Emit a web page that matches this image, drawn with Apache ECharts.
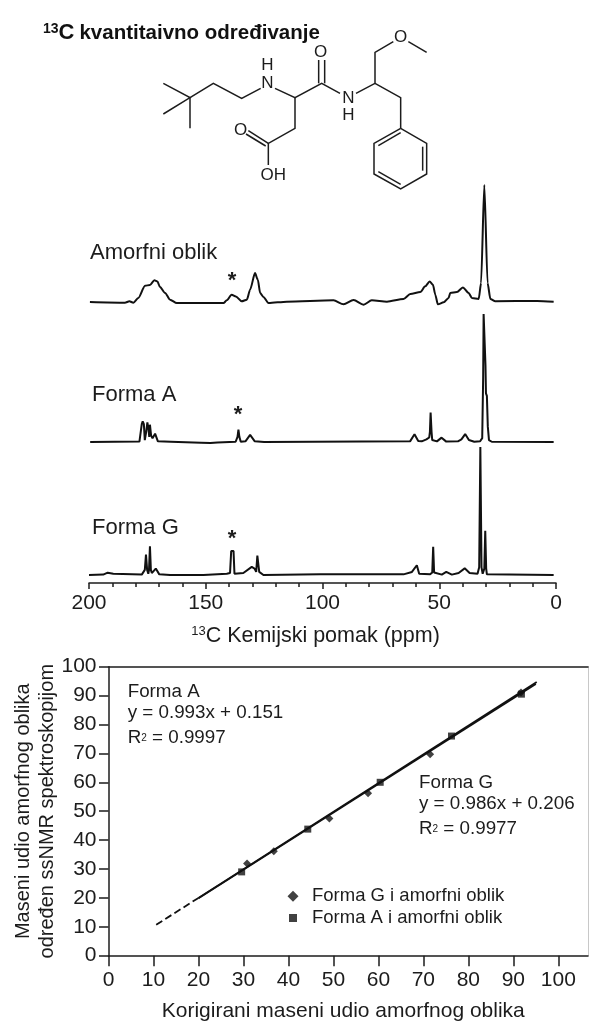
<!DOCTYPE html>
<html><head><meta charset="utf-8">
<style>html,body{margin:0;padding:0;background:#fff}#c{width:589px;height:1021px}</style>
<script src="https://cdn.jsdelivr.net/npm/echarts@6/dist/echarts.min.js"></script>
</head><body><div id="c"></div>
<script>
// 13C spectra: [ppm, relative intensity]
const amorphous = [[199.6,0],[184.6,-.6],[182.7,.6],[181,-.6],[178.9,3.4],[176,13.9],[173.9,14.5],[172,18.5],[170.7,17.6],[169.6,12.8],[167.4,7.7],[165.3,2],[162.4,-.9],[142.4,-.9],[141,1.4],[138.9,6.3],[137.1,4.8],[134.6,.6],[132.4,2],[131,10.5],[128.9,24.7],[127.7,19],[126.7,7.7],[125.3,4.3],[123.1,-.9],[115.3,.3],[95.3,1.4],[91,-2],[86.7,1.7],[82.4,-2.3],[78.9,1.4],[72.4,.3],[65.3,2.6],[62.4,6.8],[58.1,8.5],[56,13.4],[54.1,17.6],[52.7,14.8],[51.7,6.3],[50.6,-2],[48.1,-.3],[46,3.4],[45.3,7.7],[42.4,8.5],[39.9,12.5],[37.4,7.7],[36,3.4],[33.1,2.6],[32.1,16.2],[30.7,100],[29.3,16.2],[28.1,2.6],[26,.6],[8.1,.9],[1,.3]];
const formA = [[199.5,0],[178.4,.3],[177.4,14],[177,16.1],[176.5,14],[176.1,1.5],[175.5,8],[175,15.3],[174.5,10],[174.2,4],[173.9,13.5],[173.4,5],[172.8,3],[171.7,6.5],[170.5,.5],[165,.2],[152,-.5],[148,-.8],[145,-.3],[137.2,.2],[136.4,4],[136,9.6],[135.6,4],[135,.2],[133,.5],[131,5.5],[129,.5],[125,0],[62.5,.5],[60.6,6],[59,.8],[57.5,.5],[55.5,2],[54.3,3.5],[54,8],[53.7,23.1],[53.3,8],[53,1.5],[51,.5],[49,3.4],[47,.3],[42,.5],[40.5,2],[38.9,6.2],[37.3,1.5],[35,.2],[32.5,.6],[31.6,3],[31.2,50],[31,100],[30.5,100],[30.2,60],[30,38],[29.6,36],[29.2,12],[28.7,1.5],[27.5,.2],[1,0]];
const formG = [[200,0],[193.9,.3],[192,1.8],[189.6,1],[177.4,.3],[176.1,4],[175.6,16],[175.1,4],[174.6,1],[174.3,4],[173.9,22.5],[173.5,4],[173.1,1.5],[171.4,5],[169.9,.5],[165.3,0],[151,0],[141,1],[139.6,1.6],[139.1,18.8],[138.1,18.8],[137.7,1],[133.9,1.6],[130.3,6.3],[129.1,5],[128.4,2.4],[127.9,15.2],[127.1,2.4],[125.3,0],[101,.5],[65.3,.5],[61.7,2.4],[59.6,7.6],[58.6,1],[53.9,.5],[53,2],[52.6,22],[52.2,2],[51.9,.5],[48.9,.3],[47,2.4],[44.6,.3],[41.7,1.6],[39.1,5.2],[37,1.6],[33.6,1],[32.9,6],[32.4,100],[31.9,6],[31.4,1],[30.7,5],[30.3,34.6],[29.9,5],[29.6,.5],[1,0]];
const ppmTicks = { min: 0, max: 200, interval: 50 };

// Calibration plot
const corrTicks = { min: 0, max: 100, interval: 10 };
const formGPoints = [[30.8,31.9],[36.75,36.1],[49.1,47.5],[57.7,56.2],[71.5,69.7],[91.7,91.1]];
const formAPoints = [[29.6,29],[44.3,43.8],[60.4,60],[76.25,76],[91.8,90.5]];
const fitSolidA = [[20,20],[95.2,94.7]];
const fitSolidG = [[20,19.9],[95,94]];
const fitDashed = [[10.6,10.7],[20,20]];

const FONT = 'Liberation Sans, Arial, sans-serif';
const INK = '#1c1c1c';

const stroke = { stroke: INK, lineWidth: 1.5, fill: 'none' };
// Molecule drawing, in crop coords (3x, origin 30,0)
const chainPaths = [
  [[400,250],[480,293],[400,342]],
  [[480,293],[480,385]],
  [[480,293],[550,250],[635,295],[692,265]],
  [[735,265],[795,293],[875,250],[930,280]],
  [[866,250],[866,180]],[[884,250],[884,180]],
  [[978,280],[1035,250],[1035,157],[1090,125]],
  [[1135,125],[1190,157]],
  [[1035,250],[1112,293],[1112,385]],
  [[1112,385],[1190,430],[1190,522],[1112,567],[1032,522],[1032,430],[1112,385]],
  [[1178,440],[1178,512]],[[1112,553],[1045,515]],[[1045,437],[1112,398]],
  [[795,293],[795,385],[715,430],[715,495]],
  [[715,430],[655,392]],[[707,438],[648,402]]
];
const atomLabels = [['H',712,195],['N',712,250],['O',872,158],['N',955,295],['H',955,347],['O',1112,113],['O',632,390],['OH',730,525]];

const graphics = [];
chainPaths.forEach(p => graphics.push({ type:'polyline', shape:{ points:p.map(q=>[30+q[0]/3,q[1]/3]) }, style:stroke }));
atomLabels.forEach(a => graphics.push({ type:'text', x:30+a[1]/3, y:a[2]/3, style:{ text:a[0], font:'17px '+FONT, fill:INK, textAlign:'center', textVerticalAlign:'middle' } }));
[['Amorfni oblik',90,253],['Forma A',92,395],['Forma G',92,528]].forEach(t => graphics.push({ type:'text', x:t[1], y:t[2], style:{ text:t[0], font:'22px '+FONT, fill:INK, textVerticalAlign:'middle' } }));
[[232,281],[238,414.5],[232,538.5]].forEach(t => graphics.push({ type:'text', x:t[0], y:t[1], style:{ text:'*', font:'bold 22px '+FONT, fill:INK, textAlign:'center', textVerticalAlign:'middle' } }));
[['Forma A',127.7,692],['y = 0.993x + 0.151',127.7,713],['Forma G',419,783],['y = 0.986x + 0.206',419,804]].forEach(t => graphics.push({ type:'text', x:t[1], y:t[2], style:{ text:t[0], font:'18.8px '+FONT, fill:INK, textVerticalAlign:'middle' } }));
[['0.9997',127.7,738],['0.9977',419,829]].forEach(t => graphics.push({ type:'text', x:t[1], y:t[2], style:{ text:'{a|R}{b|2}{a| = '+t[0]+'}', fill:INK, textVerticalAlign:'middle', rich:{ a:{font:'18.8px '+FONT,fill:INK}, b:{font:'10px '+FONT,fill:INK} } } }));

const hiddenX = { type:'value', inverse:true, min:ppmTicks.min, max:ppmTicks.max, show:false };
const hiddenY = { type:'value', min:0, max:100, show:false };
const lineStyle = { color:INK, width:1.5 };
const axisLine = { show:true, onZero:false, lineStyle };
function specSeries(i,data){ return { type:'line', xAxisIndex:i, yAxisIndex:i, data, showSymbol:false, symbol:'none', clip:false, silent:true, smooth:i===0?0.25:false, smoothMonotone:'x', lineStyle:{ color:'#111', width:2 }, legendHoverLink:false }; }
function fit(name,data,type){ return { name, type:'line', xAxisIndex:3, yAxisIndex:3, data, symbol:'none', silent:true, lineStyle:{ color:'#111', width:1.8, type } }; }

const chart = echarts.init(document.getElementById('c'), null, { renderer:'canvas' });
chart.setOption({
  animation:false, backgroundColor:'#fff',
  title:{ left:38, top:17, text:'{s|13}{c|C} {t|kvantitaivno određivanje}', textStyle:{ rich:{
    s:{ fontFamily:FONT, fontWeight:'bold', fontSize:14, color:'#111', verticalAlign:'top', padding:[0,0,8,0] },
    c:{ fontFamily:FONT, fontWeight:'bold', fontSize:22, color:'#111' },
    t:{ fontFamily:FONT, fontWeight:'bold', fontSize:20.5, color:'#111' } } } },
  legend:[
    { left:282.5, top:881.7, itemWidth:11, itemHeight:11, data:[{name:'Forma G i amorfni oblik',icon:'diamond'}],
      textStyle:{ fontFamily:FONT, fontSize:18.5, color:INK, padding:[0,0,0,8.5] } },
    { left:284, top:903.5, itemWidth:8, itemHeight:8, data:[{name:'Forma A i amorfni oblik',icon:'rect'}],
      textStyle:{ fontFamily:FONT, fontSize:18.5, color:INK, padding:[0,0,0,10] } }
  ],
  grid:[
    { left:89, right:33, top:185, height:117, outerBoundsMode:'none' },
    { left:89, right:33, top:314, height:128, outerBoundsMode:'none' },
    { left:89, right:33, top:447, height:128, outerBoundsMode:'none' },
    { left:108.5, right:1, top:666.7, height:289, outerBoundsMode:'none' }
  ],
  xAxis:[
    { ...hiddenX, gridIndex:0 },
    { ...hiddenX, gridIndex:1 },
    { type:'value', gridIndex:2, inverse:true, ...ppmTicks, position:'bottom', offset:8,
      axisLine, splitLine:{show:false},
      axisTick:{ show:true, length:6, lineStyle },
      minorTick:{ show:true, splitNumber:5, length:4, lineStyle },
      axisLabel:{ fontFamily:FONT, fontSize:21, color:INK, margin:10 },
      name:'{s|13}{t|C Kemijski pomak (ppm)}', nameLocation:'middle', nameGap:42, nameMoveOverlap:false,
      nameTextStyle:{ padding:[0,14,0,0], rich:{ s:{ fontFamily:FONT, fontSize:13, color:INK, verticalAlign:'top', padding:[0,0,8,0] }, t:{ fontFamily:FONT, fontSize:21.5, color:INK } } } },
    { type:'value', gridIndex:3, min:0, max:106.6, interval:corrTicks.interval, position:'bottom',
      axisLine, splitLine:{show:false},
      axisTick:{ show:true, length:10.5, lineStyle },
      axisLabel:{ fontFamily:FONT, fontSize:21, color:INK, margin:14, showMaxLabel:false, formatter:v=>v%10===0?String(v):'' },
      name:'{t|Korigirani maseni udio amorfnog oblika}', nameLocation:'middle', nameGap:45, nameMoveOverlap:false,
      nameTextStyle:{ padding:[0,10,0,0], rich:{ t:{ fontFamily:FONT, fontSize:21, color:INK } } } },
    { type:'value', gridIndex:3, min:0, max:106.6, position:'top', axisLine, axisTick:{show:false}, axisLabel:{show:false}, splitLine:{show:false} }
  ],
  yAxis:[
    { ...hiddenY, gridIndex:0 },{ ...hiddenY, gridIndex:1 },{ ...hiddenY, gridIndex:2 },
    { type:'value', gridIndex:3, ...corrTicks,
      axisLine, splitLine:{show:false},
      axisTick:{ show:true, length:9.5, lineStyle },
      axisLabel:{ fontFamily:FONT, fontSize:21, color:INK, margin:12 },
      name:'Maseni udio amorfnog oblika\nodređen ssNMR spektroskopijom', nameLocation:'middle', nameGap:49, nameRotate:90, nameMoveOverlap:false,
      nameTextStyle:{ fontFamily:FONT, fontSize:20, color:INK, lineHeight:24 } },
    { type:'value', gridIndex:3, ...corrTicks, position:'right', axisLine:{ show:true, onZero:false, lineStyle:{ color:'#c8c8c8', width:1 } }, axisTick:{show:false}, axisLabel:{show:false}, splitLine:{show:false} }
  ],
  graphic:graphics,
  series:[
    specSeries(0,amorphous), specSeries(1,formA), specSeries(2,formG),
    fit('Fit A',fitSolidA,'solid'), fit('Fit G',fitSolidG,'solid'), fit('Fit extrapolated',fitDashed,'dashed'),
    { name:'Forma G i amorfni oblik', type:'scatter', xAxisIndex:3, yAxisIndex:3, data:formGPoints, symbol:'diamond', symbolSize:8, itemStyle:{color:'#111'} },
    { name:'Forma A i amorfni oblik', type:'scatter', xAxisIndex:3, yAxisIndex:3, data:formAPoints, symbol:'rect', symbolSize:7, itemStyle:{color:'#111'} }
  ]
});
</script></body></html>
